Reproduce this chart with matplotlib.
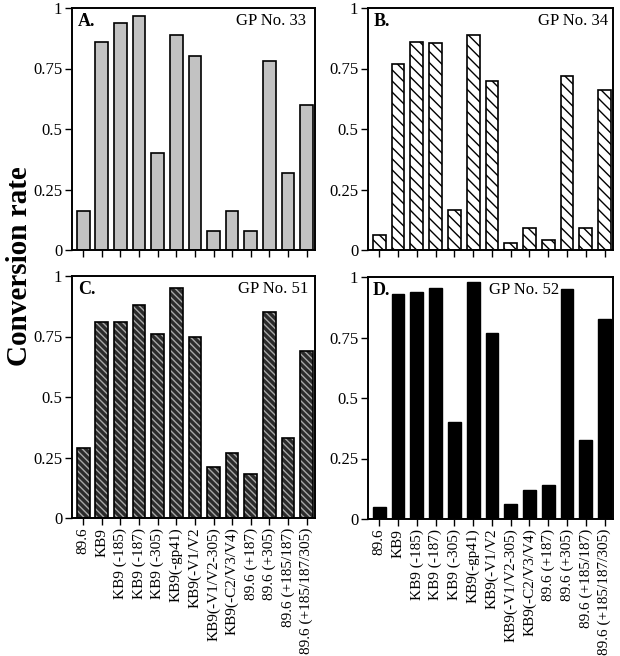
import matplotlib
matplotlib.use('Agg')
import matplotlib.pyplot as plt
import numpy as np

categories = ['89.6', 'KB9', 'KB9 (-185)', 'KB9 (-187)', 'KB9 (-305)', 'KB9(-gp41)',
              'KB9(-V1/V2', 'KB9(-V1/V2-305)', 'KB9(-C2/V3/V4)', '89.6 (+187)',
              '89.6 (+305)', '89.6 (+185/187)', '89.6 (+185/187/305)']
gp33 = [0.16, 0.86, 0.94, 0.965, 0.40, 0.89, 0.80, 0.08, 0.16, 0.08, 0.78, 0.32, 0.60]
gp34 = [0.06, 0.77, 0.86, 0.857, 0.165, 0.89, 0.70, 0.03, 0.09, 0.04, 0.72, 0.09, 0.66]
gp51 = [0.29, 0.81, 0.81, 0.88, 0.76, 0.95, 0.75, 0.21, 0.27, 0.18, 0.85, 0.33, 0.69]
gp52 = [0.05, 0.93, 0.94, 0.955, 0.40, 0.98, 0.77, 0.06, 0.12, 0.14, 0.95, 0.325, 0.825]
panel_letters = ['A.', 'B.', 'C.', 'D.']
panel_titles = ['GP No. 33', 'GP No. 34', 'GP No. 51', 'GP No. 52']
yticks = [0, 0.25, 0.5, 0.75, 1]
ytick_labels = ['0', '0.25', '0.5', '0.75', '1']

plt.rcParams['font.family'] = ['Liberation Serif', 'DejaVu Serif']
plt.rcParams['hatch.linewidth'] = 1.0

W, H = 620, 656
fig = plt.figure(figsize=(W / 100, H / 100), dpi=100)

def px_axes(x0, x1, ytop, ybot):
    return fig.add_axes([x0 / W, 1 - ybot / H, (x1 - x0) / W, (ybot - ytop) / H])

axA = px_axes(72, 315, 8, 250)
axB = px_axes(368, 613, 8, 250)
axC = px_axes(72, 315, 276, 518)
axD = px_axes(368, 613, 277, 519)

x = np.arange(len(categories))
bw = 0.68

# A: light gray
axA.bar(x, gp33, width=bw, facecolor='#c2c2c2', edgecolor='black', linewidth=1.2)
# B: white with diagonal hatch
axB.bar(x, gp34, width=bw, facecolor='white', edgecolor='black', linewidth=1.2, hatch='\\\\\\')
# C: dark with light dense hatch
axC.bar(x, gp51, width=bw, facecolor='#2b2b2b', edgecolor='#a8a8a8', linewidth=0, hatch='\\\\\\\\\\')
axC.bar(x, gp51, width=bw, facecolor='none', edgecolor='black', linewidth=1.2)
# D: solid black
axD.bar(x, gp52, width=bw, facecolor='black', edgecolor='black', linewidth=1.0)

text_pos = [(0.025, 0.675), (0.025, 0.694), (0.025, 0.683), (0.02, 0.494)]
for i, ax in enumerate([axA, axB, axC, axD]):
    ax.set_xlim(-0.6, 12.45)
    ax.set_ylim(0, 1)
    ax.set_yticks(yticks)
    ax.set_yticklabels(ytick_labels, fontsize=12)
    ax.set_xticks(x)
    if i >= 2:
        ax.set_xticklabels(categories, rotation=90, fontsize=11)
    else:
        ax.set_xticklabels([])
    ax.tick_params(direction='out', length=5, width=1.0, pad=2)
    for sp in ax.spines.values():
        sp.set_linewidth(1.4)
    lx, tx = text_pos[i]
    ax.text(lx, 0.945, panel_letters[i], transform=ax.transAxes, fontsize=13,
            fontweight='bold', ha='left', va='center')
    ax.text(tx, 0.945, panel_titles[i], transform=ax.transAxes, fontsize=12,
            ha='left', va='center')

fig.text(20 / W, 1 - 266 / H, 'Conversion rate', rotation=90, fontsize=21,
         fontweight='bold', ha='center', va='center')

fig.savefig('out.png', dpi=100)
